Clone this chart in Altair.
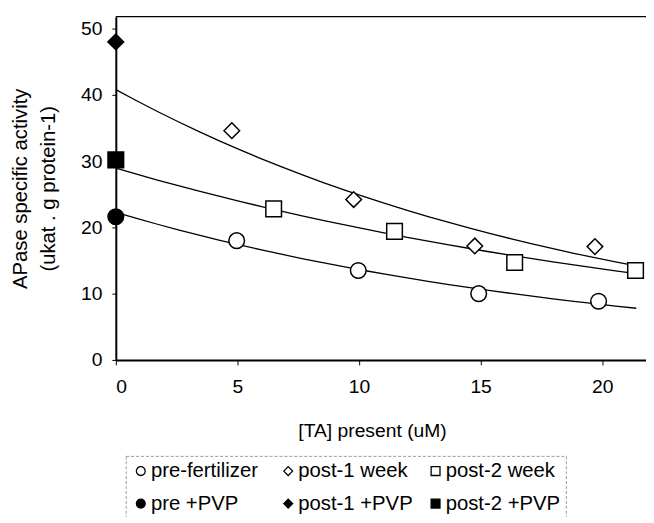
import altair as alt
import pandas as pd

# ---- data ----
series_names = ["pre-fertilizer", "post-1 week", "post-2 week",
                "pre +PVP", "post-1 +PVP", "post-2 +PVP"]
series_shapes = ["circle", "diamond", "square", "circle", "diamond", "square"]
series_fills = ["white", "white", "white", "black", "black", "black"]
series_strokes = ["black"] * 6

pre_x = [4.97, 9.97, 14.92, 19.85]
pre_y = [18.0, 13.5, 10.0, 8.85]
post1_x = [4.77, 9.78, 14.76, 19.7]
post1_y = [34.6, 24.2, 17.2, 17.1]
post2_x = [6.49, 11.46, 16.4, 21.37]
post2_y = [22.8, 19.4, 14.7, 13.5]
pvp_names = ["pre +PVP", "post-1 +PVP", "post-2 +PVP"]
pvp_x = [0, 0, 0]
pvp_y = [21.6, 48.0, 30.2]

x_ticks = [0, 5, 10, 15, 20]
y_ticks = [0, 10, 20, 30, 40, 50]

rows = []
for name, xs, ys in [("pre-fertilizer", pre_x, pre_y),
                     ("post-1 week", post1_x, post1_y),
                     ("post-2 week", post2_x, post2_y)]:
    for a, b in zip(xs, ys):
        rows.append({"series": name, "x": a, "y": b, "open": True})
for name, a, b in zip(pvp_names, pvp_x, pvp_y):
    rows.append({"series": name, "x": a, "y": b, "open": False})
df = pd.DataFrame(rows)

FONT = "Liberation Sans"
W, H = 536, 347

xscale = alt.Scale(domain=[0, 21.8], nice=False, zero=False)
yscale = alt.Scale(domain=[0, 51.8], nice=False, zero=False)

xaxis = alt.Axis(values=x_ticks, grid=False, tickSize=5, labelPadding=13,
                 labelFontSize=19.5, labelFont=FONT, labelColor="black",
                 domainColor="black", domainWidth=2, tickColor="black",
                 title="[TA] present (uM)", titleFont=FONT, titleFontSize=19.5,
                 titleFontWeight="normal", titleColor="black",
                 titleX=259, titleY=71, titleBaseline="middle", titleAlign="center")
yaxis = alt.Axis(values=y_ticks, grid=False, tickSize=4, labelPadding=10,
                 labelFontSize=19.5, labelFont=FONT, labelColor="black",
                 domainColor="black", domainWidth=2, tickColor="black",
                 title=["APase specific activity", "(ukat . g protein-1)"],
                 titleFont=FONT, titleFontSize=20.5, titleFontWeight="normal",
                 titleColor="black", titleX=-106, titleY=H / 2, titleAngle=270,
                 titleBaseline="top", titleAlign="center", titleLineHeight=28)

legend = alt.Legend(title=None, orient="none", legendX=10, legendY=444,
                    columns=3, direction="horizontal", gridAlign="all",
                    columnPadding=12, rowPadding=12, padding=5,
                    labelFont=FONT, labelFontSize=20.5, labelColor="black",
                    labelOffset=0, labelLimit=300, symbolSize=80,
                    symbolStrokeColor="black", symbolStrokeWidth=1.3,
                    strokeColor="#999999")

points = alt.Chart(df).mark_point(filled=False, color="black", strokeWidth=1.5,
                                  size=250, opacity=1).encode(
    x=alt.X("x:Q", scale=xscale, axis=xaxis),
    y=alt.Y("y:Q", scale=yscale, axis=yaxis),
    shape=alt.Shape("series:N", scale=alt.Scale(domain=series_names, range=series_shapes),
                    legend=legend),
    fill=alt.Fill("series:N", scale=alt.Scale(domain=series_names, range=series_fills),
                  legend=legend),
    stroke=alt.Stroke("series:N", scale=alt.Scale(domain=series_names, range=series_strokes),
                      legend=legend),
)

# log-linear (exponential) trend fitted by the library to the open series
lines = alt.Chart(df).transform_filter(
    alt.datum.open
).transform_calculate(
    ly="log(datum.y)"
).transform_regression(
    "x", "ly", groupby=["series"], method="poly", order=1, extent=[0, 21.4]
).transform_calculate(
    y="exp(datum.ly)"
).mark_line(color="black", strokeWidth=1.3).encode(
    x=alt.X("x:Q", scale=xscale),
    y=alt.Y("y:Q", scale=yscale),
    detail="series:N",
)

top_line = alt.Chart(pd.DataFrame({"k": [0]})).mark_rule(
    color="black", strokeWidth=1.2
).encode(x=alt.value(0), x2=alt.value(W), y=alt.value(0))

chart = alt.layer(lines, points, top_line).properties(
    width=W, height=H,
    padding={"left": 109, "top": 6, "right": 0, "bottom": 156},
    autosize=alt.AutoSizeParams(type="none"),
    background="white",
).configure_view(stroke=None).configure_legend(strokeDash=[3, 2])

chart.save("out.html", embed_options={"renderer": "svg", "actions": False})
